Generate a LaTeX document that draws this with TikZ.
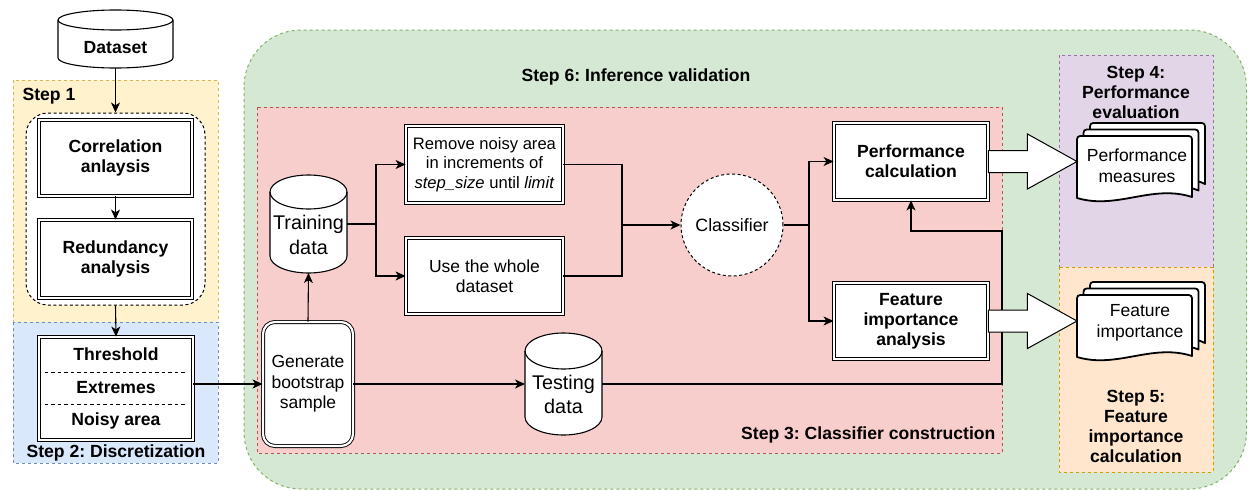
\documentclass[tikz,border=0pt]{standalone}
\usepackage{fontspec}
\setmainfont{Liberation Sans}
\usetikzlibrary{arrows.meta,calc}
\definecolor{gfill}{HTML}{D5E8D4}\definecolor{gline}{HTML}{82B366}
\definecolor{rfill}{HTML}{F8CECC}\definecolor{rline}{HTML}{B85450}
\definecolor{yfill}{HTML}{FFF2CC}\definecolor{yline}{HTML}{D6B656}
\definecolor{bfill}{HTML}{DAE8FC}\definecolor{bline}{HTML}{6C8EBF}
\definecolor{pfill}{HTML}{E1D5E7}\definecolor{pline}{HTML}{9673A6}
\definecolor{ofill}{HTML}{FFE6CC}\definecolor{oline}{HTML}{D79B00}
\newcommand\fB{\fontsize{17.6pt}{20pt}\selectfont\bfseries}
\newcommand\fR{\fontsize{17.5pt}{20.5pt}\selectfont}
\newcommand\fS{\fontsize{16.6pt}{19.4pt}\selectfont}
\newcommand\fL{\fontsize{19.8pt}{24.5pt}\selectfont}
\tikzset{
  region/.style={line width=1pt, dash pattern=on 3pt off 3pt},
  dbox/.style={draw, fill=white, double, double distance=2.2pt, line width=0.9pt, align=center, inner sep=0pt, font=\fB},
  shapebox/.style={inner sep=0pt, outer sep=0pt},
  cylstyle/.style={draw, fill=white, line width=1.1pt},
  docstyle/.style={draw, fill=white, line width=1.8pt, line join=round},
  wire/.style={line width=1.1pt},
  conn/.style={line width=1.1pt, -{Stealth[length=10pt,width=9pt,inset=2.8pt]}},
  barrow/.style={draw, fill=white, line width=1pt, line join=miter},
}
\newcommand\cylshape[5]{%
  \pgfmathsetmacro\rxa{(#3-#1)/2}%
  \path[cylstyle] (#1,#2+#5) -- (#1,#4-#5) arc[start angle=180,end angle=0,x radius=\rxa,y radius=#5] -- (#3,#2+#5) arc[start angle=0,end angle=-180,x radius=\rxa,y radius=#5] -- cycle;
  \draw[line width=1.1pt] (#1,#2+#5) arc[start angle=180,end angle=0,x radius=\rxa,y radius=#5];
}
\newcommand\onedoc[4]{%
  \path[docstyle] (#1,#4) -- (#1,#2+7) .. controls (#1,#2) .. (#1+7,#2) -- (#3-7,#2) .. controls (#3,#2) .. (#3,#2+7) -- (#3,#4-1) .. controls ({#1+0.65*(#3-#1)},#4-14) and ({#1+0.35*(#3-#1)},#4+12) .. (#1,#4) -- cycle;
}
\newcommand\docstack[4]{%
  \onedoc{#1+13}{#2-13}{#3+13}{#4-13}%
  \onedoc{#1+6.5}{#2-6.5}{#3+6.5}{#4-6.5}%
  \onedoc{#1}{#2}{#3}{#4}%
}
\frenchspacing
\begin{document}
\begin{tikzpicture}[x=1pt,y=-1pt]
\useasboundingbox (0,0) rectangle (1248,490);
% regions
\draw[region, draw=gline, fill=gfill, rounded corners=57pt] (244,30) rectangle (1246.5,489);
\draw[region, draw=rline, fill=rfill] (257,107) rectangle (1002,453);
\draw[region, draw=pline, fill=pfill] (1059,55) rectangle (1213,267);
\draw[region, draw=oline, fill=ofill] (1059,267) rectangle (1213,472);
\draw[region, draw=yline, fill=yfill] (13,80) rectangle (218,322);
\draw[region, draw=bline, fill=bfill] (13,322) rectangle (218,463);
% region titles
\node[font=\fB, anchor=west] (s1) at (19,96) {Step 1};
\node[font=\fB] (s2) at (116,453) {Step 2: Discretization};
\node[font=\fB] (s6) at (636,77) {Step 6: Inference validation};
\node[font=\fB, anchor=east] (s3) at (999,435) {Step 3: Classifier construction};
\node[font=\fB, align=center] (s4) at (1136,92.5) {Step 4:\\Performance\\evaluation};
\node[font=\fB, align=center] (s5) at (1136,426.5) {Step 5:\\Feature\\importance\\calculation};
% step 1 and 2
\cylshape{58}{10}{173}{68}{10}
\node[shapebox, minimum width=115pt, minimum height=58pt] (dataset) at (115.5,39) {};
\node[font=\fB] (datasettext) at (115.5,48) {Dataset};
\node[draw, fill=white, line width=1pt, dash pattern=on 3pt off 2.5pt, rounded corners=22pt, minimum width=179pt, minimum height=192pt, inner sep=0pt] (grp1) at (115.5,209) {};
\node[dbox, minimum width=153pt, minimum height=76pt] (corr) at (115.5,158) {Correlation\\anlaysis};
\node[dbox, minimum width=153pt, minimum height=78pt] (redund) at (115.5,259) {Redundancy\\analysis};
\node[dbox, minimum width=154pt, minimum height=103pt, font=\fontsize{17.6pt}{32.5pt}\selectfont\bfseries] (disc) at (116,388.5) {Threshold\\Extremes\\Noisy area};
\draw[line width=0.8pt, dash pattern=on 3.5pt off 3pt] ($(disc.west)+(6,-16.5)$) -- ($(disc.east)+(-6,-16.5)$);
\draw[line width=0.8pt, dash pattern=on 3.5pt off 3pt] ($(disc.west)+(6,15.5)$) -- ($(disc.east)+(-6,15.5)$);
% step 3
\cylshape{270}{175}{347}{273}{17}
\node[shapebox, minimum width=77pt, minimum height=98pt] (train) at (308.5,224) {};
\node[font=\fL, align=center] (traintext) at (308.5,235) {Training\\data};
\node[dbox, font=\fR, rounded corners=12pt, minimum width=90pt, minimum height=124pt] (gen) at (308,384) {Generate\\bootstrap\\sample};
\cylshape{525}{333}{602}{435}{18}
\node[shapebox, minimum width=77pt, minimum height=102pt] (test) at (563.5,384) {};
\node[font=\fL, align=center] (testtext) at (563.5,394.5) {Testing\\data};
\node[dbox, font=\fS, minimum width=157pt, minimum height=77pt] (remove) at (484.5,164.5) {Remove noisy area\\in increments of\\\textit{step\_size} until \textit{limit}};
\node[dbox, font=\fR, minimum width=157pt, minimum height=76pt] (usewhole) at (484.5,276) {Use the whole\\dataset};
\node[draw, fill=white, circle, line width=1pt, dash pattern=on 3pt off 2.5pt, minimum size=102pt, inner sep=0pt, font=\fontsize{17.8pt}{20pt}\selectfont] (clf) at (732,225) {Classifier};
\node[dbox, minimum width=154pt, minimum height=77pt] (perf) at (911,161.5) {Performance\\calculation};
\node[dbox, minimum width=154pt, minimum height=76pt] (feat) at (911,321) {Feature\\importance\\analysis};
% documents
\docstack{1077}{136}{1192}{198}
\node[shapebox, minimum width=115pt, minimum height=62pt] (pdoc) at (1134.5,167) {};
\node[font=\fR, align=center] (pdoctext) at (1137,166) {Performance\\measures};
\docstack{1077}{295}{1192}{357}
\node[shapebox, minimum width=115pt, minimum height=62pt] (fdoc) at (1134.5,326) {};
\node[font=\fR, align=center] (fdoctext) at (1140,323) {Feature\\importance};
% connectors
\draw[conn] (dataset.south) -- (grp1.north);
\draw[conn] (corr.south) -- (redund.north);
\draw[conn] (grp1.south) -- (disc.north);
\draw[conn] (disc.east |- gen.west) -- (gen.west);
\draw[conn] (gen.north) -- (train.south);
\draw[conn] (gen.east) -- (test.west);
\coordinate (fork) at (376,224);
\draw[wire] (train.east) -- (fork);
\draw[conn] (fork) |- (remove.west);
\draw[conn] (fork) |- (usewhole.west);
\coordinate (merge) at (622,225);
\draw[wire] (remove.east) -| (merge);
\draw[wire] (usewhole.east) -| (merge);
\draw[conn] (merge) -- (clf.west);
\coordinate (split) at (809,225);
\draw[wire] (clf.east) -- (split);
\draw[conn] (split) |- (perf.west);
\draw[conn] (split) |- (feat.west);
\coordinate (corner) at (1002,231);
\draw[conn] (test.east) -| (corner) -| (perf.south);
% block arrows
\draw[barrow] ($(perf.east)+(0,-11)$) -- ($(perf.east)+(39,-11)$) -- ($(perf.east)+(39,-27.5)$) -- (pdoc.west |- perf.east) -- ($(perf.east)+(39,27.5)$) -- ($(perf.east)+(39,11)$) -- ($(perf.east)+(0,11)$) -- cycle;
\draw[barrow] ($(feat.east)+(0,-11)$) -- ($(feat.east)+(39,-11)$) -- ($(feat.east)+(39,-27.5)$) -- (fdoc.west |- feat.east) -- ($(feat.east)+(39,27.5)$) -- ($(feat.east)+(39,11)$) -- ($(feat.east)+(0,11)$) -- cycle;
\end{tikzpicture}
\end{document}
